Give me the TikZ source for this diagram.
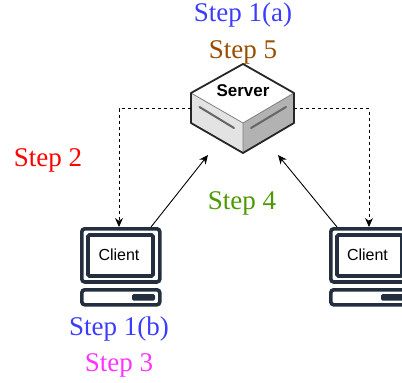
\documentclass[tikz,border=0pt]{standalone}
\usepackage{fontspec}
\setmainfont{Liberation Serif}
\newfontfamily\arialf{Liberation Sans}
\usetikzlibrary{arrows.meta}
\definecolor{navy}{HTML}{232F3E}
\tikzset{
  x=1pt,y=-1pt,
  steplabel/.style={font=\fontsize{27}{29}\selectfont,inner sep=0pt,anchor=center},
  boxtext/.style={font=\arialf\fontsize{16}{18}\selectfont,inner sep=0pt,text=black},
  anchorbox/.style={inner sep=0pt,outer sep=0pt,draw=none},
  solidarrow/.style={draw=black,line width=0.9pt,-{Stealth[length=9pt,width=8pt]}},
  dotarrow/.style={draw=black,line width=0.9pt,dashed,dash pattern=on 3pt off 3pt,-{Stealth[length=9pt,width=8pt]}},
  srvedge/.style={draw=black!85,line width=1.8pt,line join=round},
  srvslot/.style={draw=black!60,line width=2pt,line cap=round}
}
\begin{document}
\begin{tikzpicture}
\useasboundingbox (0,0) rectangle (402,383);
\clip (0,0) rectangle (402,383);
% invisible anchor boxes
\node[anchorbox,minimum width=103pt,minimum height=89pt] (server) at (242.5,108.5) {};
\node[anchorbox,minimum width=81pt,minimum height=79pt] (clientA) at (120.5,266.5) {};
\node[anchorbox,minimum width=81pt,minimum height=79pt] (clientB) at (369.5,266.5) {};
\coordinate (tipA) at (208,155);
\coordinate (tipB) at (278,155);
% server
\fill[white] (243,64) -- (294,93) -- (243,123) -- (191,93) -- cycle;
\fill[black!11] (191,93) -- (243,123) -- (243,153) -- (191,123) -- cycle;
\fill[black!30] (294,93) -- (243,123) -- (243,153) -- (294,123) -- cycle;
\draw[black!50,line width=0.8pt] (191,93) -- (243,123) -- (294,93) (243,123) -- (243,153);
\draw[srvedge] (243,64) -- (294,93) -- (294,123) -- (243,153) -- (191,123) -- (191,93) -- cycle;
\draw[srvslot] (199.5,107) -- (234,128);
\draw[srvslot] (251,128) -- (286,107);
\node[font=\arialf\bfseries\fontsize{17}{19}\selectfont,inner sep=0pt] (srvname) at (243,90.5) {Server};
% clients
\foreach \n/\dx in {A/0,B/249}{
  \begin{scope}[xshift=\dx pt]
    \draw[navy,line width=3.6pt,rounded corners=3pt] (81.8,228.8) rectangle (159.8,282);
    \draw[navy,line width=3.6pt,rounded corners=1.5pt] (88,235) rectangle (153,276);
    \draw[navy,line width=3.6pt,rounded corners=3pt] (81.8,289.8) rectangle (159.8,304.8);
    \fill[navy,rounded corners=1.5pt] (132,294) rectangle (155,300.5);
  \end{scope}
}
\node[boxtext] (clientAtext) at (119,254.5) {Client};
\node[boxtext] (clientBtext) at (367.5,254.5) {Client};
% connectors
\draw[dotarrow] (server.west) -| ([xshift=-1.5pt]clientA.north);
\draw[dotarrow] (server.east) -| ([xshift=-0.5pt]clientB.north);
\draw[solidarrow] ([xshift=30.5pt]clientA.north) -- (tipA);
\draw[solidarrow] ([xshift=-32.5pt]clientB.north) -- (tipB);
% labels
\node[steplabel,text={rgb,255:red,60;green,60;blue,255}] (s1a) at (243,15) {Step 1(a)};
\node[steplabel,text={rgb,255:red,153;green,76;blue,0}] (s5) at (243,52) {Step 5};
\node[steplabel,text=red] (s2) at (48,160) {Step 2};
\node[steplabel,text={rgb,255:red,77;green,153;blue,0}] (s4) at (242,203) {Step 4};
\node[steplabel,text={rgb,255:red,60;green,60;blue,255}] (s1b) at (119,329) {Step 1(b)};
\node[steplabel,text={rgb,255:red,255;green,51;blue,255}] (s3) at (119,365) {Step 3};
\end{tikzpicture}
\end{document}
